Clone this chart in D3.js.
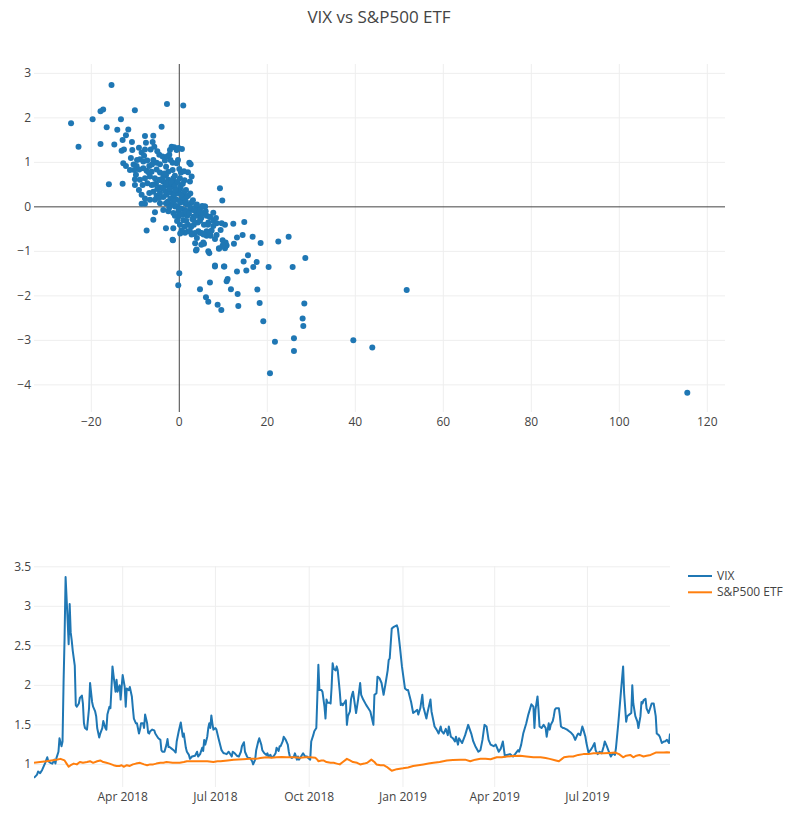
<!DOCTYPE html>
<html><head><meta charset="utf-8">
<script src="https://cdn.jsdelivr.net/npm/d3@7"></script>
<style>body{margin:0;background:#fff;} text{font-family:"Open Sans",verdana,arial,sans-serif;}</style>
</head><body><svg id="chart" width="795" height="814"></svg>
<script>
const title = "VIX vs S&P500 ETF";
const seriesNames = ["VIX", "S&P500 ETF"];
const seriesColors = ["#1f77b4", "#ff7f0e"];
const scatterXTicks = [-20, 0, 20, 40, 60, 80, 100, 120];
const scatterYTicks = [-4, -3, -2, -1, 0, 1, 2, 3];
const scatterXRange = [-33.02, 124.02];
const scatterYRange = [-4.61, 3.21];
const lineYTicks = [1, 1.5, 2, 2.5, 3, 3.5];
const lineYRange = [0.714, 3.51];
const lineXTicks = ["2018-04-01", "2018-07-01", "2018-10-01", "2019-01-01", "2019-04-01", "2019-07-01"];
const startDate = "2018-01-04";
const lastDay = 624;

// VIX (normalised) : day offset from startDate, value
const vixDay = [0,3,4,6,8,11,13,14,16,18,20,21,22,24,25,27,28,29,30,31,33,34,35,36,37,38,40,41,42,44,45,47,48,49,50,52,54,55,57,58,60,61,62,64,65,67,68,70,71,72,74,75,76,77,78,80,81,82,84,85,86,87,89,90,91,93,94,96,97,98,100,101,103,104,105,107,108,109,111,112,113,114,116,118,119,121,122,124,125,126,128,130,131,132,133,135,137,139,140,142,144,146,147,149,150,152,153,155,158,
160,161,163,165,166,167,168,170,171,172,173,174,175,176,178,179,181,183,184,186,187,189,191,192,194,195,197,199,201,203,204,206,207,209,210,212,214,215,217,218,220,221,223,224,226,228,229,230,232,233,235,237,238,240,241,242,244,245,247,249,250,251,253,255,256,258,259,260,262,264,266,268,269,271,272,274,275,277,278,279,280,282,283,285,286,287,288,290,291,292,293,294,296,297,298,300,301,302,303,305,306,307,308,310,311,312,313,316,318,
320,321,323,326,328,330,333,334,336,337,339,341,343,345,347,348,349,351,353,356,357,359,361,364,366,367,370,372,374,376,377,379,381,382,385,386,389,390,393,395,397,399,400,402,404,406,407,409,411,413,414,416,417,420,423,426,429,431,433,436,438,440,442,444,446,448,451,453,456,458,460,462,464,467,470,
472,475,476,478,480,483,485,488,490,491,492,494,495,496,498,500,502,503,505,506,507,509,510,511,512,515,516,517,519,520,523,525,527,529,531,533,534,536,538,539,541,542,544,546,548,550,551,553,555,557,559,560,562,564,566,568,570,571,573,574,576,578,579,581,582,584,586,587,588,590,592,593,595,596,597,598,600,601,603,605,606,608,610,611,613,614,616,618,619,621,623,624];
const vixVal = [0.83,0.87,0.91,0.89,0.93,1.02,1.09,1.04,1.02,1.01,1.06,1.01,1.08,1.16,1.33,1.23,1.29,2.03,2.6,3.37,2.82,2.52,3.03,2.67,2.57,2.44,2.25,1.75,1.73,1.77,1.84,1.87,1.77,1.52,1.46,1.44,1.71,2.03,1.79,1.73,1.67,1.61,1.46,1.34,1.39,1.46,1.55,1.46,1.44,1.63,1.73,1.71,1.96,2.24,2.13,1.92,2.07,1.92,2.0,1.82,1.98,2.13,1.98,1.73,1.96,1.94,1.98,1.86,1.71,1.58,1.52,1.52,1.39,1.44,1.52,1.52,1.46,1.63,1.52,1.40,1.39,1.42,1.44,1.43,1.39,1.35,1.33,1.31,1.18,1.16,1.16,1.25,1.32,1.22,1.22,1.20,1.18,1.15,1.29,1.42,1.53,1.35,1.39,1.21,1.16,1.12,1.07,1.10,1.11,
1.16,1.10,1.13,1.21,1.17,1.31,1.25,1.35,1.46,1.52,1.46,1.62,1.52,1.44,1.46,1.44,1.33,1.23,1.18,1.14,1.14,1.13,1.16,1.14,1.10,1.16,1.14,1.11,1.10,1.16,1.23,1.28,1.16,1.10,1.08,1.08,1.04,1.0,1.06,1.18,1.29,1.33,1.25,1.18,1.14,1.12,1.14,1.10,1.12,1.09,1.10,1.14,1.21,1.17,1.23,1.23,1.29,1.35,1.31,1.25,1.16,1.10,1.08,1.10,1.14,1.06,1.10,1.06,1.10,1.14,1.10,1.10,1.08,1.06,1.29,1.37,1.42,1.46,1.86,2.26,1.94,1.94,1.92,1.73,1.58,1.82,1.78,1.78,1.77,1.98,2.28,2.21,2.19,2.24,2.19,1.92,1.75,1.77,1.75,1.79,1.81,1.50,1.61,1.67,1.82,1.88,1.92,1.65,1.82,
2.03,1.88,1.82,1.75,1.71,1.67,1.50,1.88,1.90,2.11,2.09,2.03,1.88,2.03,2.19,2.32,2.34,2.72,2.74,2.76,2.72,2.49,2.24,1.96,1.94,1.94,1.79,1.65,1.67,1.69,1.63,1.71,1.88,1.73,1.58,1.65,1.82,1.67,1.48,1.44,1.39,1.48,1.42,1.39,1.45,1.37,1.48,1.35,1.33,1.29,1.35,1.25,1.33,1.27,1.37,1.50,1.39,1.29,1.23,1.16,1.18,1.31,1.50,1.48,1.31,1.25,1.23,1.25,1.16,1.20,1.29,1.10,1.12,1.13,1.10,
1.13,1.18,1.16,1.25,1.39,1.52,1.63,1.76,1.73,1.46,1.69,1.86,1.69,1.48,1.46,1.50,1.46,1.35,1.52,1.44,1.50,1.55,1.61,1.69,1.71,1.71,1.61,1.48,1.46,1.46,1.44,1.42,1.40,1.37,1.31,1.37,1.39,1.37,1.48,1.44,1.35,1.27,1.15,1.18,1.22,1.27,1.18,1.13,1.16,1.14,1.23,1.29,1.23,1.16,1.10,1.14,1.12,1.21,1.48,1.63,1.94,2.24,1.90,1.54,1.61,1.63,1.65,2.0,1.77,1.61,1.54,1.46,1.61,1.79,1.77,1.81,1.83,1.71,1.65,1.73,1.77,1.77,1.61,1.39,1.37,1.35,1.27,1.29,1.29,1.31,1.27,1.39];

// S&P500 ETF (normalised)
const spyDay = [0,6,12,17,22,26,30,32,34,36,39,42,45,48,52,55,58,62,65,68,71,74,78,81,84,86,88,91,94,97,100,104,108,111,114,117,120,124,127,130,136,143,147,150,156,163,170,176,180,183,190,196,205,212,218,222,228,233,238,243,248,255,261,266,271,276,278,279,282,284,287,291,294,297,300,303,307,310,313,317,320,324,327,331,334,336,340,343,346,349,351,356,362,367,372,377,382,387,392,398,405,411,418,423,428,433,438,443,448,454,459,464,470,477,483,490,497,502,506,512,515,518,520,525,529,534,539,544,549,554,559,565,570,574,578,581,585,588,591,594,598,601,605,610,614,618,621,624];
const spyVal = [1.02,1.03,1.04,1.05,1.06,1.07,1.05,1.01,0.97,0.99,1.01,1.0,1.03,1.02,1.03,1.04,1.02,1.04,1.05,1.03,1.02,1.01,0.99,0.98,0.98,0.99,0.97,0.99,0.98,1.0,1.01,1.02,1.0,0.99,1.0,1.0,1.01,1.02,1.02,1.03,1.02,1.02,1.03,1.04,1.04,1.04,1.04,1.03,1.04,1.04,1.05,1.06,1.065,1.07,1.07,1.08,1.09,1.085,1.09,1.095,1.09,1.09,1.085,1.09,1.09,1.085,1.06,1.04,1.05,1.05,1.03,1.02,1.02,1.01,1.0,1.03,1.07,1.05,1.03,1.02,1.0,1.01,1.02,1.06,1.03,1.0,0.99,0.99,0.97,0.94,0.92,0.94,0.95,0.96,0.98,0.99,1.0,1.01,1.02,1.03,1.05,1.055,1.06,1.06,1.04,1.06,1.07,1.07,1.065,1.09,1.09,1.10,1.105,1.11,1.10,1.09,1.09,1.08,1.07,1.05,1.04,1.07,1.09,1.10,1.10,1.12,1.13,1.13,1.14,1.14,1.14,1.145,1.15,1.13,1.09,1.11,1.12,1.09,1.11,1.12,1.10,1.11,1.12,1.15,1.15,1.15,1.155,1.15];

// scatter: VIX daily % change (x) vs S&P500 ETF daily % change (y)
const scatterX = [-24.6,-22.9,-19.7,-17.9,-17.9,-17.3,-15.4,-16.5,-16.0,-2.8,0.9,-10.1,
-13.26,-14.09,-12.12,-11.59,-14.77,-12.88,-13.11,-12.58,-10.76,-10.68,-9.17,-7.80,-5.91,-7.58,-6.06,-4.02,-6.52,-5.68,-7.80,-8.56,-8.94,-12.73,-12.12,-10.23,-9.70,-8.18,-7.27,-6.82,-5.91,-4.55,-3.79,-5.15,-4.39,-3.26,-2.73,-2.12,-2.27,-1.74,-1.14,-0.61,-1.52,-0.61,2.27,2.58,1.97,0.38,1.06,0.15,-1.52,-2.50,-3.03,-3.64,-4.39,-5.15,-6.29,-7.42,-8.18,-9.09,-9.85,-10.08,-8.94,-7.80,-6.67,-5.53,-4.55,-3.64,-2.50,-1.36,-0.61,2.80,2.42,1.52,1.67,0.76,0.0,-0.98,-2.12,-3.26,-4.39,-5.30,-6.29,-7.27,-8.33,-9.17,-8.56,-7.80,-6.82,-5.91,-5.15,-4.39,-3.64,-2.88,-1.97,-1.36,-0.61,0.53,1.29,2.80,3.79,4.70,5.83,3.94,2.42,1.29,0.15,-0.98,-2.12,-3.03,-4.39,-5.53,-6.67,-7.80,-8.56,-3.64,-2.50,-1.36,-0.23,0.91,1.82,3.18,4.70,6.21,6.97,7.73,9.62,10.38,-5.91,-7.42,-3.03,-1.36,0.15,2.05,3.18,4.70,6.21,7.35,8.48,9.24,9.77,-12.88,-10.08,-11.21,
12.27,14.77,14.39,13.11,12.42,16.67,18.48,22.5,24.85,3.79,6.59,6.82,9.02,10.38,10.76,9.85,5.61,0.0,-0.23,4.7,6.97,6.06,6.59,8.11,10.23,10.98,10.76,11.74,13.26,13.41,8.71,9.55,13.11,14.62,15.23,15.61,16.82,17.58,17.73,18.26,19.09,20.3,21.74,20.61,25.76,28.64,28.41,28.03,28.18,26.06,26.06,39.55,43.86,51.68,115.45,-1.44,-5.53,
10.53,9.85,9.02,3.94,5.45,8.1,10.15,-1.52,
3.18,3.94,4.7,5.83,6.97,7.73,8.33,8.48,9.39,7.73,6.59,5.61,4.7,4.32,5.08,6.21,7.12,8.11,3.56,2.42,1.29,0.53,
-3.2,-2.6,-2.0,-1.6,-1.1,-0.7,-0.3,0.2,0.6,1.0,1.4,1.8,2.2,2.6,3.0,3.4,3.8,4.2,4.6,5.0,5.4,-3.8,-2.9,-2.2,-1.8,-1.0,-0.4,0.3,0.8,-0.2,0.4,0.9,1.6,2.0,2.7,3.3,-1.0,-0.5,0.0,-2.3,-1.3,-0.9,0.5,1.2,1.5,2.0,-4.6,-5.0,-4.2,-3.4,-5.8,-6.2,-7.0,-8.0,-9.6,-11.0,-10.4,-5.0,-3.0,-2.0,-1.0,0.0,-0.3,0.6,-0.2,1.2,2.5,3.1,4.0,5.2,6.0,6.5,7.0,5.5,4.0,2.8,3.6,5.0,1.2,0.2];
const scatterY = [1.88,1.35,1.97,1.41,2.15,2.19,2.74,1.79,0.51,2.31,2.28,2.17,
1.97,1.73,1.61,1.74,1.40,1.50,1.26,1.29,1.46,1.28,1.33,1.59,1.60,1.44,1.46,1.80,1.29,1.35,1.29,1.22,1.07,0.98,0.92,0.83,0.92,1.02,1.04,0.92,1.05,1.17,1.13,0.99,0.96,1.04,1.13,1.28,1.17,1.35,1.34,1.28,0.99,0.98,0.99,0.96,0.78,0.77,0.80,0.64,0.83,0.79,0.71,0.68,0.77,0.84,0.79,0.81,0.87,0.84,0.72,0.62,0.61,0.64,0.68,0.64,0.61,0.57,0.61,0.64,0.55,0.68,0.57,0.38,0.23,0.27,0.38,0.42,0.46,0.47,0.44,0.52,0.49,0.53,0.49,0.38,0.27,0.19,0.31,0.34,0.25,0.31,0.22,0.27,0.32,0.23,0.16,0.16,0.08,0.10,0.01,-0.03,0.01,-0.10,-0.07,-0.07,-0.03,0.01,0.04,0.08,0.08,0.16,0.16,0.07,0.07,-0.07,-0.10,-0.14,-0.22,-0.18,-0.20,-0.22,-0.23,-0.20,-0.23,-0.31,-0.37,-0.40,-0.29,-0.53,-0.48,-0.48,-0.40,-0.55,-0.61,-0.58,-0.65,-0.53,-0.63,0.42,0.14,0.52,0.49,0.83,
-0.38,-0.34,-0.63,-0.69,-0.83,-0.67,-0.81,-0.78,-0.67,-0.98,-1.0,-1.04,-0.93,-0.93,-0.87,-0.75,-0.83,-1.49,-1.76,-1.85,-1.70,-2.03,-2.13,-1.32,-1.34,-1.62,-1.67,-1.85,-1.96,-2.23,-2.20,-2.32,-1.45,-1.23,-1.43,-1.09,-1.35,-1.24,-1.86,-2.16,-2.57,-1.35,-3.03,-3.74,-1.35,-1.15,-2.17,-2.51,-2.68,-2.95,-3.24,-3.0,-3.16,-1.87,-4.18,-0.75,-0.12,
-0.80,-0.87,-0.94,-0.96,-0.80,-1.34,-1.34,-0.74,
-0.28,-0.14,-0.07,0.01,-0.22,-0.13,-0.25,-0.37,-0.52,-0.43,-0.35,-0.40,-0.31,-0.55,-0.59,-0.55,-0.65,-0.72,-0.59,-0.55,-0.58,-0.53,
0.35,0.12,0.18,0.05,0.28,0.02,0.3,0.1,-0.05,0.2,-0.12,0.05,-0.15,-0.02,-0.28,-0.08,-0.2,-0.35,-0.12,-0.25,-0.15,0.42,0.52,0.4,0.55,0.48,0.56,0.45,0.52,-0.1,-0.18,-0.3,-0.32,-0.4,-0.45,-0.4,-0.2,-0.32,-0.05,-0.02,0.12,0.38,0.28,0.35,0.12,0.25,0.2,0.4,0.6,0.75,0.5,0.95,0.78,1.15,1.05,1.1,0.95,1.25,0.9,1.05,0.7,0.85,1.05,1.3,1.32,0.6,0.3,0.15,0.05,0.02,-0.1,-0.4,-0.6,-0.62,-0.7,-0.62,-0.82,-0.85,-0.45,-0.6];

const svg = d3.select("#chart");
const fontCol = "#444", gridCol = "#eee";

svg.append("text").attr("x", 379).attr("y", 23).attr("text-anchor", "middle")
  .attr("font-size", 17).attr("fill", fontCol).text(title);

// ---------- Top: scatter ----------
const T = {l: 34, r: 725, t: 64, b: 412};
const sx = d3.scaleLinear().domain(scatterXRange).range([T.l, T.r]);
const sy = d3.scaleLinear().domain(scatterYRange).range([T.b, T.t]);
const gTop = svg.append("g");
gTop.selectAll("line.gx").data(scatterXTicks.filter(v => v !== 0)).join("line")
  .attr("x1", d => sx(d)).attr("x2", d => sx(d)).attr("y1", T.t).attr("y2", T.b)
  .attr("stroke", gridCol).attr("stroke-width", 1);
gTop.selectAll("line.gy").data(scatterYTicks.filter(v => v !== 0)).join("line")
  .attr("y1", d => sy(d)).attr("y2", d => sy(d)).attr("x1", T.l).attr("x2", T.r)
  .attr("stroke", gridCol).attr("stroke-width", 1);
gTop.append("line").attr("x1", sx(0)).attr("x2", sx(0)).attr("y1", T.t).attr("y2", T.b)
  .attr("stroke", fontCol).attr("stroke-width", 1);
gTop.append("line").attr("y1", sy(0)).attr("y2", sy(0)).attr("x1", T.l).attr("x2", T.r)
  .attr("stroke", fontCol).attr("stroke-width", 1);
const fmt = d3.format("");
gTop.selectAll("text.xt").data(scatterXTicks).join("text")
  .attr("x", d => sx(d)).attr("y", T.b + 14).attr("text-anchor", "middle")
  .attr("font-size", 12).attr("fill", fontCol).text(d => fmt(d));
gTop.selectAll("text.yt").data(scatterYTicks).join("text")
  .attr("x", T.l - 3).attr("y", d => sy(d) + 4).attr("text-anchor", "end")
  .attr("font-size", 12).attr("fill", fontCol).text(d => fmt(d));
gTop.selectAll("circle").data(scatterX.map((x, i) => [x, scatterY[i]])).join("circle")
  .attr("cx", d => sx(d[0])).attr("cy", d => sy(d[1])).attr("r", 3)
  .attr("fill", seriesColors[0]);

// ---------- Bottom: lines ----------
const B = {l: 34, r: 670, t: 566, b: 787};
const parse = d3.timeParse("%Y-%m-%d");
const d0 = parse(startDate);
const toDate = d => d3.timeDay.offset(d0, d);
const bx = d3.scaleTime().domain([d0, toDate(lastDay)]).range([B.l, B.r]);
const by = d3.scaleLinear().domain(lineYRange).range([B.b, B.t]);
const gBot = svg.append("g");
const xt = lineXTicks.map(parse);
gBot.selectAll("line.gx").data(xt).join("line")
  .attr("x1", d => bx(d)).attr("x2", d => bx(d)).attr("y1", B.t).attr("y2", B.b)
  .attr("stroke", gridCol);
gBot.selectAll("line.gy").data(lineYTicks).join("line")
  .attr("y1", d => by(d)).attr("y2", d => by(d)).attr("x1", B.l).attr("x2", B.r)
  .attr("stroke", gridCol);
const tf = d3.timeFormat("%b %Y");
gBot.selectAll("text.xt").data(xt).join("text")
  .attr("x", d => bx(d)).attr("y", B.b + 14).attr("text-anchor", "middle")
  .attr("font-size", 12).attr("fill", fontCol).text(d => tf(d));
gBot.selectAll("text.yt").data(lineYTicks).join("text")
  .attr("x", B.l - 3).attr("y", d => by(d) + 4).attr("text-anchor", "end")
  .attr("font-size", 12).attr("fill", fontCol).text(d => fmt(d));
const line = d3.line().x(d => bx(toDate(d[0]))).y(d => by(d[1]));
const series = [vixDay.map((d, i) => [d, vixVal[i]]), spyDay.map((d, i) => [d, spyVal[i]])];
gBot.append("defs").append("clipPath").attr("id", "clipB").append("rect")
  .attr("x", B.l).attr("y", B.t).attr("width", B.r - B.l).attr("height", B.b - B.t);
series.forEach((s, i) => {
  gBot.append("path").datum(s).attr("d", line).attr("fill", "none")
    .attr("stroke", seriesColors[i]).attr("stroke-width", 2).attr("stroke-linejoin", "round")
    .attr("clip-path", "url(#clipB)");
});
// legend
seriesNames.forEach((n, i) => {
  const y = 576 + i * 16.3;
  gBot.append("line").attr("x1", 688).attr("x2", 712).attr("y1", y).attr("y2", y)
    .attr("stroke", seriesColors[i]).attr("stroke-width", 2);
  gBot.append("text").attr("x", 717).attr("y", y + 4).attr("font-size", 12)
    .attr("fill", fontCol).text(n);
});
</script></body></html>
